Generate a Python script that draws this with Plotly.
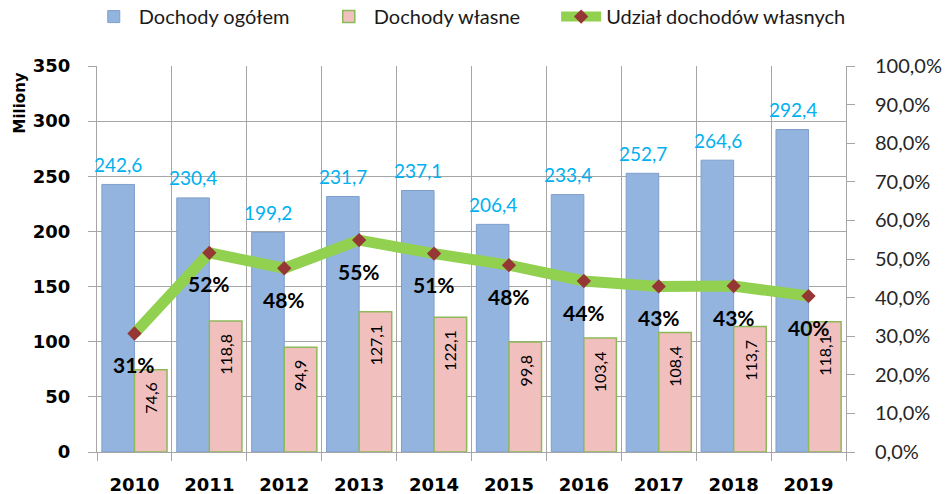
import plotly.graph_objects as go

# Budget data (millions) for the years 2010-2019
years = ["2010", "2011", "2012", "2013", "2014", "2015", "2016", "2017", "2018", "2019"]
total_income = [242.6, 230.4, 199.2, 231.7, 237.1, 206.4, 233.4, 252.7, 264.6, 292.4]
own_income = [74.6, 118.8, 94.9, 127.1, 122.1, 99.8, 103.4, 108.4, 113.7, 118.1]
own_share = [0.307, 0.516, 0.476, 0.549, 0.514, 0.484, 0.443, 0.429, 0.430, 0.404]

left_ticks = [0, 50, 100, 150, 200, 250, 300, 350]
right_ticks = [0, 0.1, 0.2, 0.3, 0.4, 0.5, 0.6, 0.7, 0.8, 0.9, 1.0]

GRID = "#A6A6A6"
SANS = "Lato"
BOLD = "DejaVu Sans"


def pl(v):
    return f"{v:.1f}".replace(".", ",")


fig = go.Figure()

fig.add_trace(go.Bar(
    x=years, y=total_income, name="Dochody ogółem",
    marker=dict(color="#92B4DE", line=dict(color="#7F9FCB", width=1)),
))
fig.add_trace(go.Bar(
    x=years, y=own_income, name="Dochody własne",
    marker=dict(color="#F2BFBF", line=dict(color="#8DB95A", width=1.5)),
))
fig.add_trace(go.Scatter(
    x=years, y=own_share, name="Udział dochodów własnych", yaxis="y2",
    mode="lines+markers", legend="legend2",
    line=dict(color="#92D050", width=11),
    marker=dict(symbol="diamond", size=11, color="#953735"),
))

annotations = []
# value labels above the total-income bars (x given as category index)
for i, v in enumerate(total_income):
    annotations.append(dict(
        x=i, y=v, xref="x", yref="y", text=pl(v), showarrow=False,
        xshift=-16, yshift=20, font=dict(family=SANS, size=19, color="#00B0F0"),
    ))
# rotated value labels inside the own-income bars
for i, v in enumerate(own_income):
    annotations.append(dict(
        x=i, y=v, xref="x", yref="y", text=pl(v), showarrow=False,
        textangle=-90, yanchor="top", xshift=16, yshift=-11,
        font=dict(family=SANS, size=16, color="#000000"),
    ))
# share labels below the line markers
for i, s in enumerate(own_share):
    annotations.append(dict(
        x=i, y=s, xref="x", yref="y2", text=f"{round(s * 100)}%", showarrow=False,
        yshift=-31, font=dict(family=SANS, size=21, color="#000000", weight="bold"),
    ))
# unit title of the left axis
annotations.append(dict(
    x=-0.103, y=0.905, xref="paper", yref="paper", text="Miliony", showarrow=False,
    xanchor="center", yanchor="middle",
    textangle=-90, font=dict(family=BOLD, size=15, color="#000000", weight="bold"),
))

legend_font = dict(family=SANS, size=20, color="#1A1A1A")

fig.update_layout(
    width=947, height=494,
    margin=dict(l=97, r=101, t=66, b=42, autoexpand=False),
    paper_bgcolor="white", plot_bgcolor="white",
    separators=", ",
    barmode="group", bargap=0.13, bargroupgap=0,
    showlegend=True,
    legend=dict(
        orientation="h", x=-0.011, xanchor="left", y=1.128, yanchor="middle",
        font=legend_font, itemwidth=40, entrywidth=180, entrywidthmode="pixels",
        traceorder="normal", bgcolor="rgba(0,0,0,0)",
    ),
    legend2=dict(
        orientation="h", x=0.613, xanchor="left", y=1.128, yanchor="middle",
        font=legend_font, itemwidth=40, bgcolor="rgba(0,0,0,0)",
    ),
    xaxis=dict(
        type="category", range=[-0.5, 9.5], tickson="boundaries",
        showgrid=True, gridcolor=GRID, gridwidth=1,
        showline=True, linecolor=GRID, linewidth=1,
        ticks="outside", ticklen=8, tickcolor=GRID, ticklabelstandoff=16,
        tickfont=dict(family=BOLD, size=18, color="#000000", weight="bold"),
    ),
    yaxis=dict(
        range=[0, 350], tickvals=left_ticks, showgrid=True, gridcolor=GRID, gridwidth=1,
        showline=True, linecolor=GRID, linewidth=1, zeroline=False,
        ticks="outside", ticklen=8, tickcolor=GRID, ticklabelstandoff=14,
        tickfont=dict(family=BOLD, size=18, color="#000000", weight="bold"),
    ),
    yaxis2=dict(
        range=[0, 1], tickvals=right_ticks, tickformat=".1%", overlaying="y", side="right",
        showgrid=False, showline=True, linecolor=GRID, linewidth=1, zeroline=False,
        ticks="outside", ticklen=8, tickcolor=GRID, ticklabelstandoff=16,
        tickfont=dict(family=SANS, size=20, color="#262626"),
    ),
    annotations=annotations,
)

fig.write_html("out.html")
